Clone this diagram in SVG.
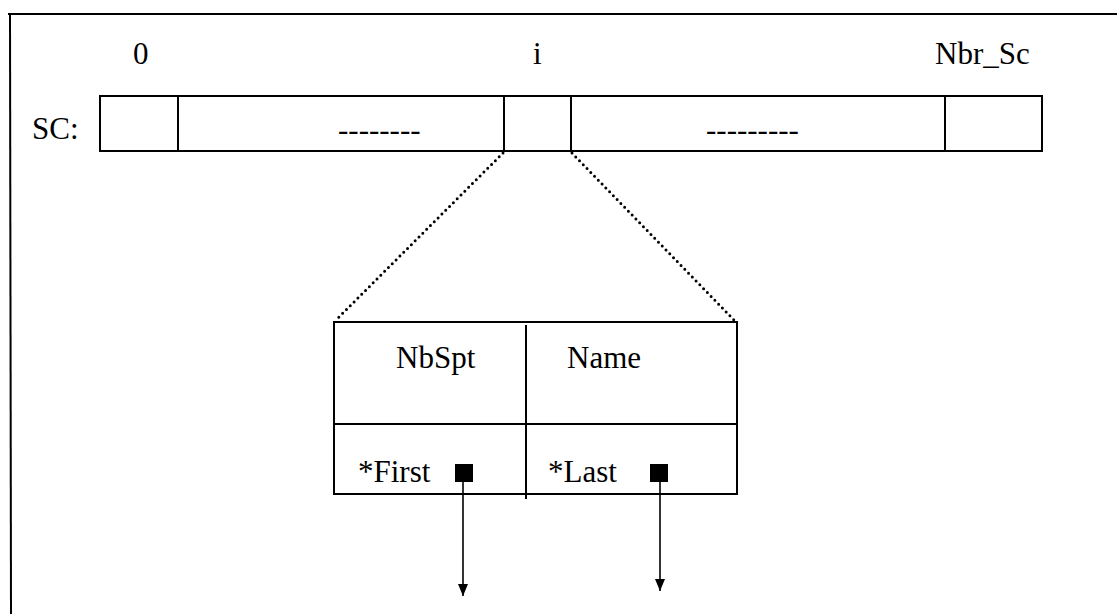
<svg xmlns="http://www.w3.org/2000/svg" width="1117" height="614" viewBox="0 0 1117 614">
<defs>
<style>
.ln{stroke:#000;stroke-width:2;fill:none}
.dot{stroke:#000;stroke-width:3;fill:none;stroke-dasharray:0 5.4;stroke-linecap:round}
.ptr{stroke:#000;stroke-width:1.6;fill:none}
</style>
<marker id="ah" viewBox="0 0 12 10" refX="12" refY="5" markerWidth="12" markerHeight="10" markerUnits="userSpaceOnUse" orient="auto">
<path d="M0,0 L12,5 L0,10 Z" fill="#000"/>
</marker>
</defs>
<rect width="1117" height="614" fill="#fff"/>
<g id="frame">
<line class="ln" x1="8" y1="14" x2="1117" y2="14" stroke-width="3"/>
<line class="ln" x1="10" y1="13" x2="11" y2="614" stroke-width="3"/>
</g>
<g font-family="Liberation Serif, Times New Roman, DejaVu Serif, serif" font-size="31" fill="#000">
<g id="labels">
<text x="133" y="64">0</text>
<text x="533" y="64">i</text>
<text x="935" y="64">Nbr_Sc</text>
<text x="32" y="139">SC:</text>
</g>
<g id="sc-array">
<rect class="ln" x="100" y="96" width="942" height="55"/>
<line class="ln" x1="178" y1="96" x2="178" y2="151"/>
<line class="ln" x1="504" y1="96" x2="504" y2="151"/>
<line class="ln" x1="571" y1="96" x2="571" y2="151"/>
<line class="ln" x1="945" y1="96" x2="945" y2="151"/>
<text x="338" y="140">--------</text>
<text x="706" y="140">---------</text>
</g>
<g id="record">
<rect class="ln" x="334" y="322" width="403" height="172"/>
<line class="ln" x1="334" y1="424" x2="737" y2="424"/>
<line class="ln" x1="526" y1="325" x2="526" y2="499"/>
<text x="396" y="368">NbSpt</text>
<text x="567" y="368">Name</text>
<text x="358" y="482">*First</text>
<text x="548" y="482">*Last</text>
<rect x="455" y="464" width="18" height="18" fill="#000"/>
<rect x="650" y="464" width="18" height="18" fill="#000"/>
</g>
</g>
<g id="connectors">
<line class="dot" x1="503" y1="153" x2="336" y2="320"/>
<line class="dot" x1="572" y1="153" x2="734" y2="320"/>
<line class="ptr" x1="463" y1="482" x2="463" y2="596" marker-end="url(#ah)"/>
<line class="ptr" x1="660" y1="482" x2="660" y2="591" marker-end="url(#ah)"/>
</g>
</svg>
